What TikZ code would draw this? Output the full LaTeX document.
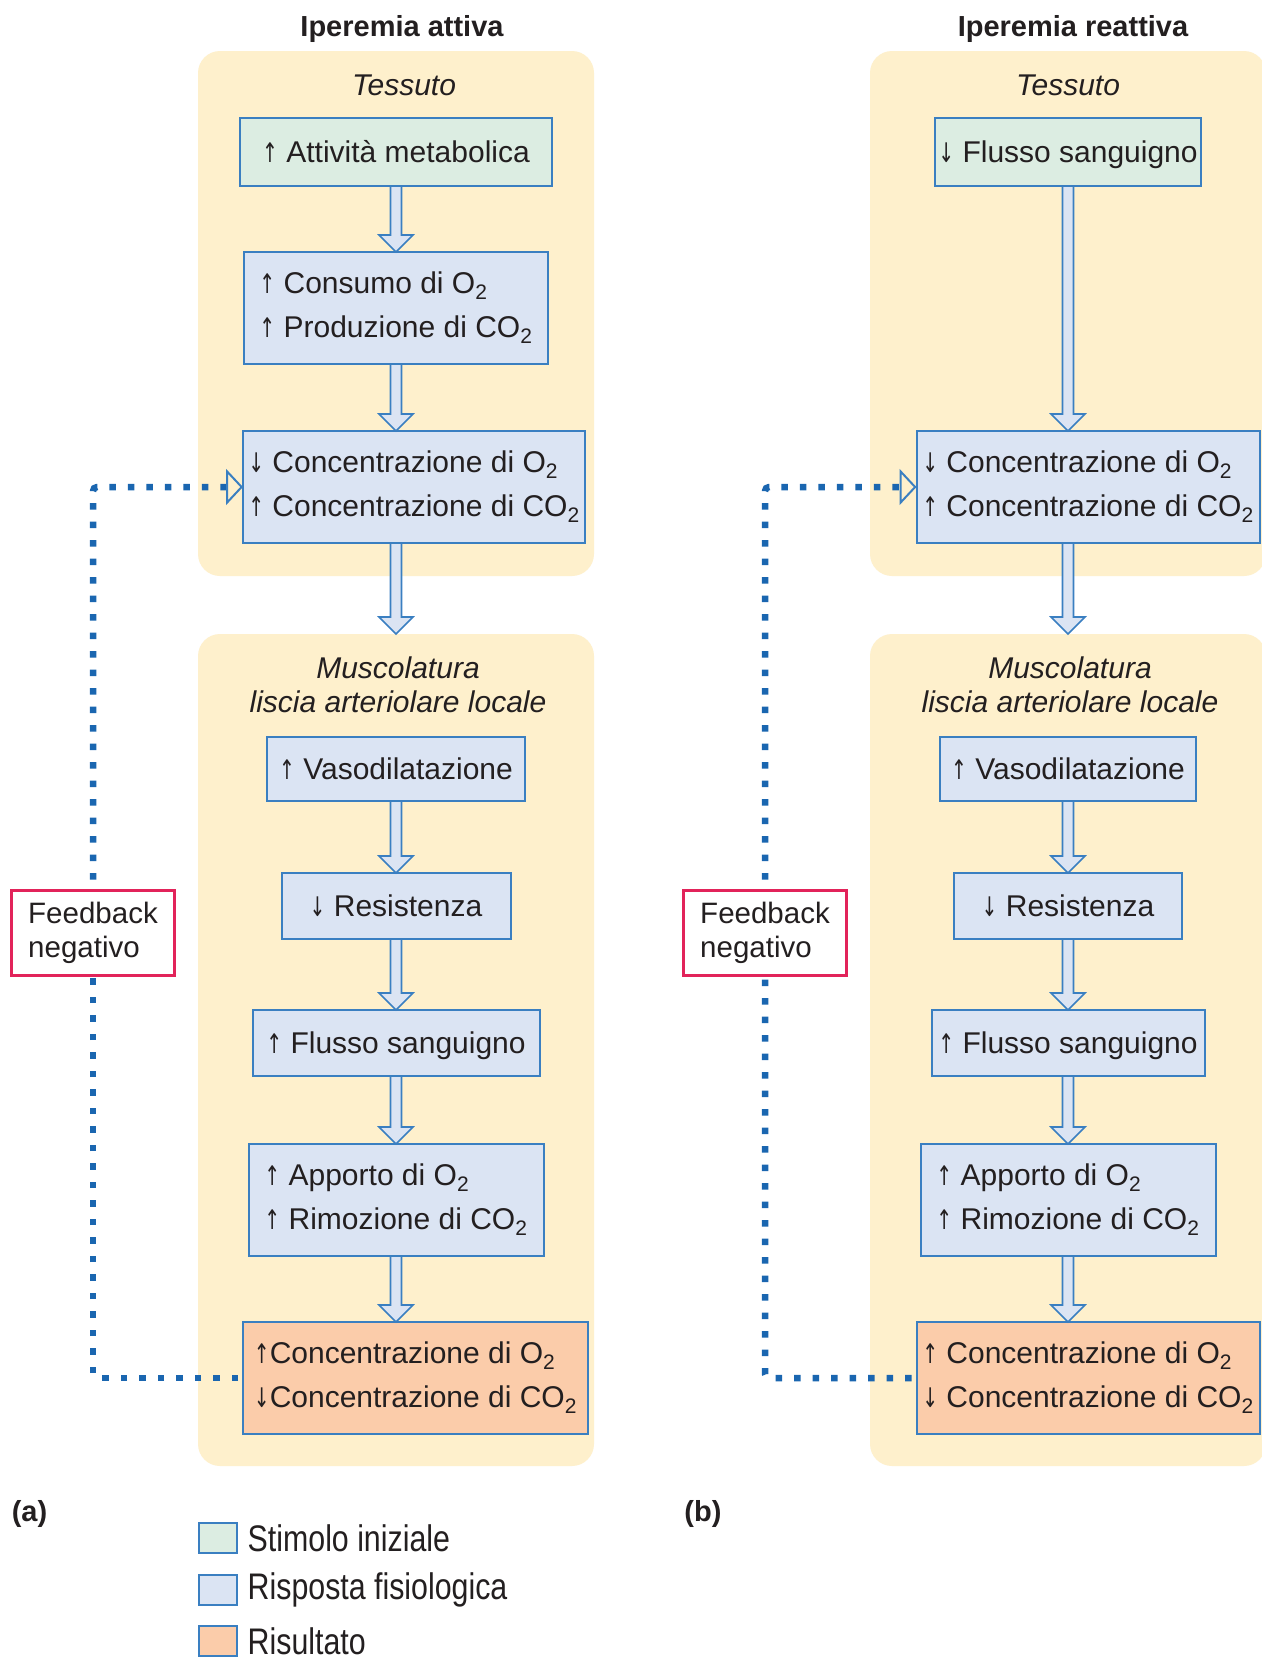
\documentclass[tikz,border=0pt]{standalone}
\usepackage{fontspec}
\setmainfont{Liberation Sans}
\newfontfamily\legendfont[FakeStretch=0.82]{Liberation Sans}
\newfontfamily\arrowfont[FakeStretch=0.7]{DejaVu Sans}
\usetikzlibrary{arrows.meta,positioning,calc}

\definecolor{panelyellow}{RGB}{254,240,204}
\definecolor{stimfill}{RGB}{220,237,226}
\definecolor{respfill}{RGB}{219,228,243}
\definecolor{outfill}{RGB}{251,204,170}
\definecolor{boxline}{RGB}{58,127,193}
\definecolor{dotblue}{RGB}{26,102,176}
\definecolor{fbred}{RGB}{226,35,90}
\definecolor{inktext}{RGB}{35,31,32}

\newcommand{\incr}{{\arrowfont\fontsize{27}{30}\selectfont ↑}}
\newcommand{\decr}{{\arrowfont\fontsize{27}{30}\selectfont ↓}}

\begin{document}
\begin{tikzpicture}[
    x=1pt, y=-1pt,
    font=\fontsize{30}{44}\selectfont, text=inktext,
    panel/.style={fill=panelyellow, rounded corners=22pt, inner sep=0pt, outer sep=0pt},
    stimulus/.style={draw=boxline, line width=2pt, fill=stimfill, align=left, inner sep=0pt, outer sep=0pt, minimum height=66pt},
    response/.style={stimulus, fill=respfill},
    outcome/.style={stimulus, fill=outfill},
    tall/.style={minimum height=112pt},
    oneline/.style={text height=27pt, text depth=6pt},
    coltitle/.style={font=\fontsize{29}{34}\selectfont\bfseries},
    zone/.style={font=\fontsize{30}{34}\selectfont\itshape, align=center},
    fatarrow/.style={draw=boxline, fill=respfill, line width=1.6pt, line join=miter,
        to path={($(\tikztostart)+(-5.5pt,-1pt)$) -- ($(\tikztotarget)+(-5.5pt,17pt)$)
            -- ($(\tikztotarget)+(-17pt,17pt)$) -- (\tikztotarget)
            -- ($(\tikztotarget)+(17pt,17pt)$) -- ($(\tikztotarget)+(5.5pt,17pt)$)
            -- ($(\tikztostart)+(5.5pt,-1pt)$)}},
    feedline/.style={draw=dotblue, line width=6.5pt, dash pattern=on 6.5pt off 12pt, rounded corners=4pt},
    feedtip/.style={-{Triangle[open, length=17pt, width=36pt, line width=2pt, color=boxline]}},
    fbbox/.style={draw=fbred, line width=3pt, fill=white, align=left, minimum width=163pt, minimum height=85pt, font=\fontsize{29.5}{34}\selectfont},
    legendbox/.style={draw=boxline, line width=2pt, minimum width=38pt, minimum height=30pt, inner sep=0pt},
    legendtext/.style={font=\legendfont\fontsize{37}{40}\selectfont, anchor=west, inner sep=0pt},
    tag/.style={font=\fontsize{29}{34}\selectfont\bfseries}
]
\useasboundingbox[fill=white] (0,0) rectangle (1261,1657);

% Titles
\node[coltitle] (titA) at (402,29) {Iperemia attiva};
\node[coltitle] (titB) at (1073,29) {Iperemia reattiva};

% Background panels
\node[panel, minimum width=396pt, minimum height=525pt] (panA1) at (396,313.5) {};
\node[panel, minimum width=396pt, minimum height=832pt] (panA2) at (396,1050) {};
\node[panel, minimum width=396pt, minimum height=525pt] (panB1) at (1068,313.5) {};
\node[panel, minimum width=396pt, minimum height=832pt] (panB2) at (1068,1050) {};

\node[zone] (tisA) at (404,85) {Tessuto};
\node[zone] (musA) at (398,685) {Muscolatura\\liscia arteriolare locale};
\node[zone] (tisB) at (1068,85) {Tessuto};
\node[zone] (musB) at (1070,685) {Muscolatura\\liscia arteriolare locale};

% (a) Iperemia attiva
\node[stimulus, oneline, minimum width=312pt, minimum height=68pt] (a1) at (396,152) {\incr\ Attività metabolica};
\node[response, tall, minimum width=304pt, below=66pt of a1] (a2) {\incr\ Consumo di O\textsubscript{2}\\\incr\ Produzione di CO\textsubscript{2}};
\node[response, tall, minimum width=342pt, below=67pt of a2, xshift=18pt] (a3) {\decr\ Concentrazione di O\textsubscript{2}\\\incr\ Concentrazione di CO\textsubscript{2}};
\node[response, oneline, minimum width=258pt, minimum height=64pt] (a4) at (396,769) {\incr\ Vasodilatazione};
\node[response, oneline, minimum width=229pt, below=72pt of a4] (a5) {\decr\ Resistenza};
\node[response, oneline, minimum width=287pt, below=71pt of a5] (a6) {\incr\ Flusso sanguigno};
\node[response, tall, minimum width=295pt, below=68pt of a6] (a7) {\incr\ Apporto di O\textsubscript{2}\\\incr\ Rimozione di CO\textsubscript{2}};
\node[outcome, tall, minimum width=345pt, below=66pt of a7, xshift=19.5pt] (a8) {\incr Concentrazione di O\textsubscript{2}\\\decr Concentrazione di CO\textsubscript{2}};

\draw[fatarrow] (a1.south) to (a2.north);
\draw[fatarrow] (a2.south) to (a2.south |- a3.north);
\draw[fatarrow] (a2.south |- a3.south) to (panA2.north);
\draw[fatarrow] (a4.south) to (a5.north);
\draw[fatarrow] (a5.south) to (a6.north);
\draw[fatarrow] (a6.south) to (a7.north);
\draw[fatarrow] (a7.south) to (a7.south |- a8.north);

\node[fbbox] (fbA) at (93,932.5) {Feedback\\negativo};
\draw[feedline, shorten <=5pt] (a8.west) -| (fbA.south);
\draw[feedline, feedtip, shorten <=9pt] (fbA.north) |- (a3.west);

% (b) Iperemia reattiva
\node[stimulus, oneline, minimum width=266pt, minimum height=68pt] (b1) at (1068,152) {\decr\ Flusso sanguigno};
\node[response, tall, minimum width=343pt, below=245pt of b1, xshift=20pt] (b3) {\decr\ Concentrazione di O\textsubscript{2}\\\incr\ Concentrazione di CO\textsubscript{2}};
\node[response, oneline, minimum width=256pt, minimum height=64pt] (b4) at (1068,769) {\incr\ Vasodilatazione};
\node[response, oneline, minimum width=228pt, below=72pt of b4] (b5) {\decr\ Resistenza};
\node[response, oneline, minimum width=273pt, below=71pt of b5] (b6) {\incr\ Flusso sanguigno};
\node[response, tall, minimum width=295pt, below=68pt of b6] (b7) {\incr\ Apporto di O\textsubscript{2}\\\incr\ Rimozione di CO\textsubscript{2}};
\node[outcome, tall, minimum width=343pt, below=66pt of b7, xshift=20pt] (b8) {\incr\ Concentrazione di O\textsubscript{2}\\\decr\ Concentrazione di CO\textsubscript{2}};

\draw[fatarrow] (b1.south) to (b1.south |- b3.north);
\draw[fatarrow] (b1.south |- b3.south) to (panB2.north);
\draw[fatarrow] (b4.south) to (b5.north);
\draw[fatarrow] (b5.south) to (b6.north);
\draw[fatarrow] (b6.south) to (b7.north);
\draw[fatarrow] (b7.south) to (b7.south |- b8.north);

\node[fbbox] (fbB) at (765,932.5) {Feedback\\negativo};
\draw[feedline, shorten <=5pt] (b8.west) -| (fbB.south);
\draw[feedline, feedtip, shorten <=9pt] (fbB.north) |- (b3.west);

% Labels and legend
\node[tag] (labA) at (29.5,1514) {(a)};
\node[tag] (labB) at (703,1514) {(b)};

\node[legendbox, fill=stimfill] (k1) at (217.5,1538) {};
\node[legendbox, fill=respfill] (k2) at (217.5,1590) {};
\node[legendbox, fill=outfill] (k3) at (217.5,1641) {};
\node[legendtext, right=10pt of k1] (k1t) {Stimolo iniziale};
\node[legendtext, right=10pt of k2] (k2t) {Risposta fisiologica};
\node[legendtext, right=10pt of k3] (k3t) {Risultato};

\end{tikzpicture}
\end{document}
